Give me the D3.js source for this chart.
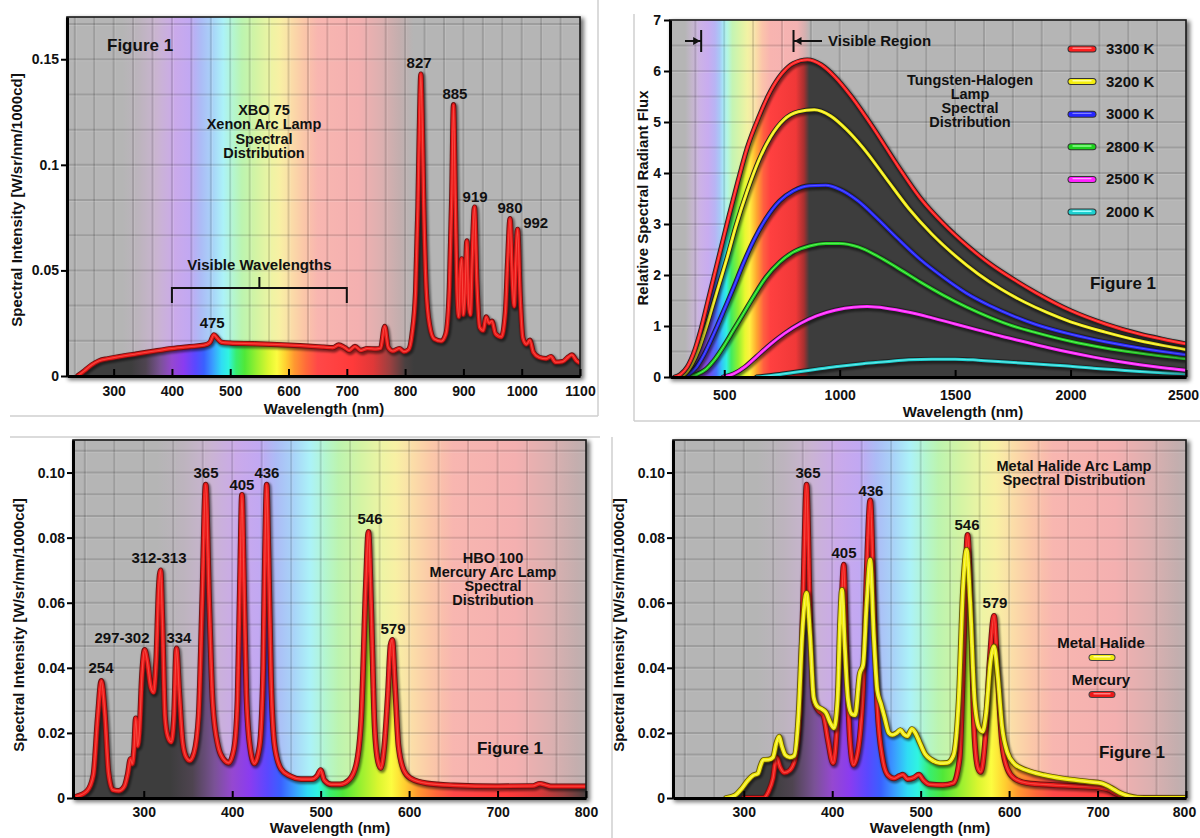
<!DOCTYPE html>
<html><head><meta charset="utf-8">
<script src="https://cdn.jsdelivr.net/npm/d3@7"></script>
<style>
body{margin:0;background:#fff;}
text{font-family:"Liberation Sans",Arial,Helvetica,sans-serif;font-weight:bold;fill:#111;}
</style></head><body>
<svg id="chart" width="1200" height="838"></svg>
<script>
// ---------------- DATA ----------------
// Panel A: XBO 75 Xenon arc lamp  [wavelength nm, spectral intensity]
const xenonSpectrum = [
[238,0],[250,0.0025],[262,0.0052],[275,0.0072],[290,0.0082],[310,0.0092],[340,0.0105],[370,0.0118],[400,0.0130],[430,0.0139],[455,0.0146],[465,0.0158],[472,0.0195],[478,0.0178],[485,0.0160],[500,0.0156],[540,0.0153],[580,0.0149],[620,0.0144],[660,0.0137],[676,0.0134],[686,0.0147],[696,0.0135],[704,0.0121],[714,0.0140],[724,0.0121],[735,0.0130],[750,0.0128],[758,0.0132],[765,0.0235],[771,0.0135],[779,0.0118],[790,0.0130],[798,0.0115],[806,0.0125],[812,0.0200],[818,0.0400],[822,0.0800],[825,0.1250],[827,0.1430],[829,0.1250],[832,0.0800],[836,0.0420],[842,0.0240],[850,0.0175],[862,0.0165],[870,0.0200],[876,0.0420],[880,0.0850],[883,0.1285],[886,0.0850],[889,0.0400],[892,0.0280],[895,0.0500],[897,0.0555],[900,0.0290],[903,0.0420],[906,0.0640],[909,0.0340],[912,0.0290],[915,0.0550],[919,0.0800],[923,0.0450],[928,0.0230],[934,0.0215],[939,0.0280],[944,0.0250],[949,0.0260],[955,0.0200],[965,0.0185],[972,0.0300],[976,0.0550],[980,0.0745],[984,0.0450],[987,0.0330],[990,0.0550],[993,0.0695],[997,0.0400],[1002,0.0180],[1008,0.0150],[1014,0.0170],[1020,0.0112],[1030,0.0088],[1042,0.0082],[1050,0.0092],[1058,0.0065],[1070,0.0068],[1080,0.0090],[1086,0.0100],[1094,0.0072],[1100,0.0062]
];
const xenonXTicks = [300,400,500,600,700,800,900,1000,1100];
const xenonYTicks = [0,0.05,0.1,0.15];
const xenonYTickLabels = ["0","0.05","0.1","0.15"];
const xenonPeakLabels = [["475",469,0.0227],["827",824,0.1458],["885",885.5,0.1312],["919",920,0.0824],["980",980,0.0772],["992",1024,0.0701]];

// Panel B: Tungsten-halogen lamp, relative spectral radiant flux
const tungstenTemps = ["3300 K","3200 K","3000 K","2800 K","2500 K","2000 K"];
const flux3300 = [[285,0],[310,0.05],[340,0.2],[370,0.5],[400,0.95],[430,1.5],[460,2.05],[490,2.6],[520,3.15],[560,3.85],[600,4.5],[650,5.1],[700,5.6],[750,5.95],[800,6.15],[860,6.22],[920,6.12],[980,5.88],[1050,5.5],[1150,4.85],[1250,4.15],[1350,3.5],[1450,3.0],[1550,2.58],[1650,2.22],[1750,1.92],[1850,1.65],[2000,1.3],[2150,1.04],[2300,0.84],[2400,0.74],[2500,0.65]];
const flux3200 = [[300,0],[330,0.06],[360,0.25],[390,0.55],[420,0.95],[450,1.4],[480,1.85],[510,2.3],[550,2.95],[600,3.65],[650,4.25],[700,4.7],[760,5.05],[820,5.2],[890,5.24],[960,5.12],[1030,4.85],[1100,4.5],[1200,3.9],[1300,3.3],[1400,2.8],[1500,2.38],[1600,2.02],[1700,1.72],[1800,1.47],[1900,1.26],[2000,1.08],[2150,0.88],[2300,0.71],[2400,0.62],[2500,0.54]];
const flux3000 = [[315,0],[345,0.05],[380,0.2],[410,0.42],[440,0.7],[470,1.0],[500,1.32],[540,1.75],[580,2.2],[630,2.7],[680,3.1],[740,3.45],[800,3.65],[870,3.75],[940,3.76],[1000,3.68],[1080,3.45],[1160,3.12],[1250,2.72],[1350,2.3],[1450,1.95],[1550,1.64],[1650,1.4],[1750,1.2],[1850,1.03],[2000,0.84],[2150,0.69],[2300,0.57],[2400,0.5],[2500,0.44]];
const flux2800 = [[340,0],[380,0.05],[420,0.15],[460,0.35],[500,0.62],[540,0.92],[580,1.22],[630,1.6],[680,1.95],[740,2.25],[800,2.45],[870,2.57],[940,2.62],[1000,2.62],[1080,2.55],[1160,2.38],[1250,2.14],[1350,1.86],[1450,1.6],[1550,1.37],[1650,1.17],[1750,1.0],[1850,0.87],[2000,0.7],[2150,0.57],[2300,0.47],[2400,0.41],[2500,0.36]];
const flux2500 = [[495,0],[540,0.06],[590,0.2],[640,0.4],[700,0.64],[760,0.85],[830,1.05],[900,1.2],[980,1.31],[1060,1.37],[1120,1.38],[1200,1.35],[1300,1.27],[1400,1.16],[1500,1.04],[1600,0.92],[1700,0.8],[1800,0.69],[1900,0.58],[2000,0.48],[2100,0.39],[2200,0.31],[2300,0.24],[2400,0.18],[2500,0.13]];
const flux2000 = [[640,0],[720,0.04],[800,0.09],[900,0.15],[1000,0.21],[1100,0.26],[1200,0.3],[1300,0.34],[1400,0.35],[1500,0.35],[1600,0.33],[1700,0.3],[1800,0.27],[1900,0.24],[2000,0.21],[2100,0.17],[2200,0.14],[2300,0.11],[2400,0.085],[2500,0.065]];
const tungstenXTicks = [500,1000,1500,2000,2500];
const tungstenYTicks = [0,1,2,3,4,5,6,7];

// Panel C: HBO 100 mercury arc lamp
const mercurySpectrum = [
[224,0.0005],[236,0.0022],[243,0.007],[248,0.025],[252,0.036],[256,0.026],[260,0.008],[265,0.0025],[272,0.0022],[278,0.0035],[282,0.0075],[285,0.0120],[287,0.0105],[289,0.0150],[291,0.0245],[293,0.0160],[295,0.0200],[298,0.0380],[301,0.0455],[304,0.0420],[308,0.0340],[311,0.0325],[314,0.0420],[317,0.0650],[319,0.0700],[321,0.0550],[324,0.0250],[327,0.0190],[331,0.0172],[334,0.0240],[337,0.0460],[340,0.0330],[344,0.0170],[348,0.0125],[352,0.0115],[357,0.0140],[362,0.0250],[366,0.0600],[370,0.0963],[374,0.0600],[378,0.0290],[384,0.0160],[390,0.0120],[396,0.0108],[402,0.0150],[406,0.0300],[409,0.0700],[411,0.0932],[413,0.0700],[416,0.0320],[420,0.0160],[425,0.0106],[431,0.0160],[435,0.0400],[437,0.0750],[439,0.0963],[441,0.0750],[444,0.0360],[448,0.0160],[455,0.0090],[465,0.0068],[478,0.0058],[490,0.0058],[496,0.0068],[500,0.0086],[504,0.0055],[512,0.0042],[522,0.0042],[532,0.0055],[540,0.0100],[546,0.0250],[551,0.0650],[554,0.0818],[557,0.0600],[561,0.0220],[565,0.0110],[568,0.0092],[572,0.0160],[576,0.0320],[579,0.0470],[581,0.0486],[584,0.0350],[588,0.0160],[594,0.0085],[602,0.0060],[620,0.0045],[650,0.0039],[700,0.0036],[740,0.0037],[748,0.0044],[754,0.0040],[760,0.0036],[780,0.0036],[800,0.0036]
];
const hgXTicks = [300,400,500,600,700,800];
const hgYTicks = [0,0.02,0.04,0.06,0.08,0.10];
const hgYTickLabels = ["0","0.02","0.04","0.06","0.08","0.10"];
const mercuryPeakLabels = [["254",251.7,0.0384],["297-302",275.4,0.0476],["312-313",317.2,0.0722],["334",339.8,0.0476],["365",370.4,0.0983],["405",411,0.0947],["436",439.3,0.0983],["546",555.8,0.0842],["579",581.8,0.0504]];

// Panel D: Metal halide vs mercury
const metalHalideSpectrum = [
[280,0],[290,0.0008],[298,0.0030],[305,0.0055],[311,0.0070],[316,0.0075],[319,0.0100],[322,0.0117],[328,0.0118],[333,0.0125],[337,0.0170],[340,0.0189],[343,0.0160],[347,0.0132],[352,0.0125],[357,0.0130],[362,0.0260],[366,0.0500],[371,0.0630],[375,0.0500],[379,0.0310],[383,0.0282],[389,0.0272],[393,0.0262],[398,0.0230],[402,0.0215],[406,0.0300],[409,0.0550],[411,0.0640],[414,0.0480],[418,0.0300],[422,0.0258],[426,0.0255],[431,0.0380],[435,0.0410],[439,0.0600],[443,0.0732],[447,0.0500],[451,0.0330],[455,0.0290],[459,0.0250],[464,0.0200],[468,0.0194],[473,0.0200],[477,0.0209],[481,0.0196],[485,0.0190],[490,0.0212],[494,0.0200],[499,0.0170],[505,0.0135],[512,0.0118],[522,0.0107],[530,0.0108],[537,0.0130],[543,0.0300],[548,0.0650],[552,0.0763],[556,0.0600],[561,0.0300],[566,0.0215],[570,0.0204],[574,0.0260],[579,0.0420],[583,0.0466],[587,0.0380],[592,0.0220],[598,0.0140],[606,0.0105],[620,0.0085],[640,0.0070],[660,0.0060],[690,0.0050],[705,0.0045],[715,0.0032],[725,0.0016],[735,0.0006],[745,0.0001],[760,0],[800,0]
];
const mhMercurySpectrum = [
[300,0],[322,0],[328,0.002],[333,0.006],[337,0.0125],[341,0.0095],[346,0.0078],[352,0.0085],[358,0.0120],[363,0.0250],[367,0.0600],[371,0.0963],[375,0.0550],[379,0.0300],[384,0.0270],[390,0.0255],[395,0.0180],[401,0.0107],[406,0.0250],[410,0.0550],[413,0.0717],[416,0.0450],[420,0.0180],[424,0.0102],[430,0.0160],[435,0.0350],[439,0.0700],[443,0.0915],[447,0.0600],[451,0.0280],[457,0.0120],[463,0.0070],[470,0.0060],[476,0.0068],[480,0.0072],[485,0.0058],[492,0.0062],[498,0.0072],[503,0.0055],[510,0.0042],[525,0.0040],[537,0.0046],[544,0.0120],[549,0.0500],[553,0.0809],[557,0.0550],[561,0.0180],[565,0.0090],[568,0.0080],[573,0.0180],[578,0.0420],[583,0.0560],[587,0.0380],[592,0.0170],[598,0.0090],[606,0.0060],[620,0.0046],[650,0.0040],[680,0.0036],[700,0.0033],[712,0.0026],[722,0.0012],[732,0.0002],[745,0],[800,0]
];
const mhPeakLabels = [["365",372.6,0.0983],["436",443.8,0.0928],["405",413.3,0.0738],["546",552.4,0.0824],["579",584,0.0584]];

// spectrum colour stops (styling)
const pastelStops = [[200,'#b5b5b5'],[315,'#b5b5b5'],[345,'#bdb4be'],[375,'#cab4d2'],[405,'#caaaea'],[430,'#c2a8f2'],[450,'#acbcf6'],[470,'#a8d4f8'],[488,'#acf2f8'],[505,'#b4f6d0'],[520,'#bcf4b0'],[545,'#d4f4a4'],[570,'#eef4a4'],[585,'#f8f0a4'],[605,'#fbdca8'],[625,'#fbc8a8'],[650,'#f8b6b0'],[720,'#f4b0b0'],[760,'#dcb0b0'],[790,'#c4aeae'],[815,'#b5b5b5'],[1200,'#b5b5b5']];
const vividStops = [[200,'#3d3d3d'],[330,'#3d3d3d'],[355,'#4e4450'],[380,'#7a5296'],[400,'#9548d0'],[420,'#8a3cf0'],[440,'#5a48ff'],[455,'#3a60ff'],[470,'#3a9cff'],[485,'#30dcf4'],[497,'#30f4e0'],[510,'#38ee70'],[525,'#50e838'],[545,'#98f030'],[565,'#daf630'],[580,'#fcfc40'],[595,'#ffd030'],[610,'#ff9830'],[630,'#ff6a3a'],[650,'#ff4848'],[710,'#ff3a3a'],[745,'#e03838'],[775,'#984040'],[800,'#4a4040'],[815,'#3d3d3d'],[1200,'#3d3d3d']];
const pastelStopsB = [[265,'#b5b5b5'],[330,'#b5b5b5'],[360,'#c4b6cc'],[395,'#ccb2e6'],[430,'#c8acf0'],[460,'#b8b4f4'],[480,'#a8c8f6'],[498,'#a8eef8'],[515,'#b4f6e0'],[535,'#c4f4b4'],[565,'#d8f4a8'],[600,'#f2f2a4'],[635,'#fae0a8'],[665,'#fbc4aa'],[700,'#f8b4b0'],[815,'#f4b2b2'],[850,'#d4b0b0'],[872,'#b5b5b5'],[2500,'#b5b5b5']];
const vividStopsB = [[265,'#3d3d3d'],[335,'#3d3d3d'],[370,'#6a4a8a'],[410,'#8e48d8'],[440,'#6a50f0'],[465,'#4a70ff'],[490,'#30c8f8'],[510,'#30f0e0'],[530,'#40ec60'],[560,'#90f030'],[590,'#e8f830'],[610,'#fff040'],[640,'#ffa830'],[670,'#ff6040'],[700,'#ff4040'],[810,'#f03838'],[845,'#a83030'],[868,'#3d3d3d'],[2500,'#3d3d3d']];

// ---------------- DRAWING ----------------
const svg = d3.select('#chart');
const defs = svg.append('defs');
defs.append('filter').attr('id','blur3').attr('x','-5%').attr('y','-5%').attr('width','115%').attr('height','115%')
  .append('feGaussianBlur').attr('stdDeviation',2.2);
defs.append('filter').attr('id','blur1').attr('x','-5%').attr('y','-5%').attr('width','110%').attr('height','110%')
  .append('feGaussianBlur').attr('stdDeviation',1.2);

// separators of the four source pictures
[[10,416,598,416],[598,0,598,416],[634,14,634,421],[634,421,1200,421],[10,437,600,437],[612,437,612,838]].forEach(l=>{
  svg.append('line').attr('x1',l[0]).attr('y1',l[1]).attr('x2',l[2]).attr('y2',l[3]).attr('stroke','#cfcfcf').attr('stroke-width',1.5);
});

function spectrumGradient(id, stops, xs){
  const a = stops[0][0], b = stops[stops.length-1][0];
  const lg = defs.append('linearGradient').attr('id',id).attr('gradientUnits','userSpaceOnUse')
    .attr('x1',xs(a)).attr('x2',xs(b)).attr('y1',0).attr('y2',0);
  stops.forEach(s=>lg.append('stop').attr('offset',(s[0]-a)/(b-a)).attr('stop-color',s[1]));
}

function basePanel(p){
  const x = d3.scaleLinear().domain(p.xDomain).range([p.left,p.right]);
  const y = d3.scaleLinear().domain(p.yDomain).range([p.bottom,p.top]);
  const w = p.right-p.left, h = p.bottom-p.top;
  const g = svg.append('g');
  g.append('rect').attr('x',p.left+1).attr('y',p.top+1).attr('width',w+3).attr('height',h+3).attr('fill','#000').attr('opacity',0.55).attr('filter','url(#blur3)');
  g.append('rect').attr('x',p.left).attr('y',p.top).attr('width',w).attr('height',h).attr('fill','#b5b5b5');
  spectrumGradient(p.id+'-pastel', p.pastel, x);
  spectrumGradient(p.id+'-vivid', p.vivid, x);
  g.append('rect').attr('x',p.left).attr('y',p.top).attr('width',w).attr('height',h).attr('fill',`url(#${p.id}-pastel)`);
  defs.append('clipPath').attr('id',p.id+'-clip').append('rect').attr('x',p.left).attr('y',p.top).attr('width',w).attr('height',h);
  const inner = g.append('g').attr('clip-path',`url(#${p.id}-clip)`);
  const gx=[], gy=[];
  for(let k=-200;k<=200;k++){
    const vx = p.gridX[0]+k*p.gridX[1];
    if(vx>p.xDomain[0]+1e-6 && vx<p.xDomain[1]-1e-6) gx.push(vx);
    const vy = p.gridY[0]+k*p.gridY[1];
    if(vy>p.yDomain[0]+1e-9 && vy<p.yDomain[1]-1e-9) gy.push(vy);
  }
  const grid = inner.append('g');
  grid.selectAll(null).data(gx).join('line').attr('x1',d=>x(d)).attr('x2',d=>x(d)).attr('y1',p.top).attr('y2',p.bottom)
    .attr('stroke','#000').attr('stroke-opacity',0.13).attr('stroke-width',2);
  grid.selectAll(null).data(gy).join('line').attr('y1',d=>y(d)).attr('y2',d=>y(d)).attr('x1',p.left).attr('x2',p.right)
    .attr('stroke','#000').attr('stroke-opacity',0.13).attr('stroke-width',2);
  grid.selectAll(null).data(gx).join('line').attr('x1',d=>x(d)+1.5).attr('x2',d=>x(d)+1.5).attr('y1',p.top).attr('y2',p.bottom)
    .attr('stroke','#fff').attr('stroke-opacity',0.12).attr('stroke-width',1);
  grid.selectAll(null).data(gy).join('line').attr('y1',d=>y(d)+1.5).attr('y2',d=>y(d)+1.5).attr('x1',p.left).attr('x2',p.right)
    .attr('stroke','#fff').attr('stroke-opacity',0.12).attr('stroke-width',1);
  return {p,g,inner,x,y};
}

function fillUnder(ctx, data){
  const area = d3.area().x(d=>ctx.x(d[0])).y0(ctx.p.bottom).y1(d=>ctx.y(d[1])).curve(d3.curveMonotoneX);
  ctx.inner.append('path').attr('d',area(data)).attr('fill',`url(#${ctx.p.id}-vivid)`);
}

function drawCurve(ctx, data, color, edge, hi, w){
  const line = d3.line().x(d=>ctx.x(d[0])).y(d=>ctx.y(d[1])).curve(d3.curveMonotoneX);
  const d = line(data);
  const c = ctx.inner.append('g').attr('fill','none').attr('stroke-linejoin','round').attr('stroke-linecap','round');
  c.append('path').attr('d',d).attr('stroke','#000').attr('stroke-opacity',0.5).attr('stroke-width',w+3).attr('transform','translate(1.2,1.5)').attr('filter','url(#blur1)');
  c.append('path').attr('d',d).attr('stroke',edge).attr('stroke-width',w+1.8);
  c.append('path').attr('d',d).attr('stroke',color).attr('stroke-width',w);
  c.append('path').attr('d',d).attr('stroke',hi).attr('stroke-opacity',0.55).attr('stroke-width',Math.max(1,w*0.3));
}

function frame(ctx){
  const {p,g,x,y} = ctx;
  g.append('rect').attr('x',p.left).attr('y',p.top).attr('width',p.right-p.left).attr('height',p.bottom-p.top)
    .attr('fill','none').attr('stroke','#1a1a1a').attr('stroke-width',1.6);
  const xa = d3.axisBottom(x).tickValues(p.xTicks).tickFormat(d3.format('d')).tickSize(-7).tickSizeOuter(0).tickPadding(p.xPad);
  const gxa = g.append('g').attr('transform',`translate(0,${p.bottom})`).call(xa);
  gxa.select('.domain').attr('stroke','#000').attr('stroke-width',3);
  gxa.selectAll('.tick line').attr('stroke','#000').attr('stroke-width',2);
  gxa.selectAll('.tick text').style('font-size','14px');
  if(p.lastTickShift) gxa.selectAll('.tick text').filter((d,i,n)=>i===n.length-1).attr('dx',p.lastTickShift);
  const ya = d3.axisLeft(y).tickValues(p.yTicks).tickFormat((d,i)=>p.yLabels[i]).tickSize(6).tickSizeOuter(0).tickPadding(p.yPad);
  const gya = g.append('g').attr('transform',`translate(${p.left},0)`).call(ya);
  gya.select('.domain').attr('stroke','#000').attr('stroke-width',3);
  gya.selectAll('.tick line').attr('stroke','#000').attr('stroke-width',2);
  gya.selectAll('.tick text').style('font-size','14px');
  g.append('text').attr('x',p.xTitle[0]).attr('y',p.xTitle[1]).attr('text-anchor','middle').style('font-size','15px').text('Wavelength (nm)');
  g.append('text').attr('transform',`translate(${p.yTitle[0]},${p.yTitle[1]}) rotate(-90)`).attr('text-anchor','middle').style('font-size','15px').text(p.yTitleText);
}

function txt(g, x, y, s, size, anchor){
  return g.append('text').attr('x',x).attr('y',y).attr('text-anchor',anchor||'middle').style('font-size',size+'px').text(s);
}
function lines(g, x, y, arr, size, lh){
  arr.forEach((s,i)=>txt(g,x,y+i*lh,s,size));
}
function peakLabels(ctx, arr){
  arr.forEach(l=>txt(ctx.g, ctx.x(l[1]), ctx.y(l[2]), l[0], 15));
}

// ---- Panel A : Xenon ----
const A = basePanel({id:'A',left:67,right:580,top:17,bottom:376,xDomain:[220,1100],yDomain:[0,0.17],
  gridX:[300,100/3],gridY:[0,0.05/3],pastel:pastelStops,vivid:vividStops,
  xTicks:xenonXTicks,yTicks:xenonYTicks,yLabels:xenonYTickLabels,xPad:10,yPad:2,
  xTitle:[324,414],yTitle:[22,200],yTitleText:'Spectral Intensity [W/sr/nm/1000cd]'});
fillUnder(A, xenonSpectrum);
drawCurve(A, xenonSpectrum, '#ec1a1a', '#6e1212', '#ff7060', 3.4);
frame(A);
peakLabels(A, xenonPeakLabels);
txt(A.g, 107, 51, 'Figure 1', 17, 'start');
lines(A.g, 264, 115, ['XBO 75','Xenon Arc Lamp','Spectral','Distribution'], 14.5, 14.3);
txt(A.g, A.x(550), 270, 'Visible Wavelengths', 15);
A.g.append('path').attr('d',`M${A.x(400)},303V288H${A.x(700)}V303M${A.x(550)},288V277`)
  .attr('fill','none').attr('stroke','#111').attr('stroke-width',2);

// ---- Panel B : Tungsten-halogen ----
const B = basePanel({id:'B',left:670,right:1186,top:20,bottom:377,xDomain:[265,2500],yDomain:[0,7],
  gridX:[500,125],gridY:[0,0.5],pastel:pastelStopsB,vivid:vividStopsB,
  xTicks:tungstenXTicks,yTicks:tungstenYTicks,yLabels:tungstenYTicks.map(String),xPad:13,yPad:3,lastTickShift:-3,
  xTitle:[963,417],yTitle:[648,198],yTitleText:'Relative Spectral Radiant Flux'});
fillUnder(B, flux3300);
const tungstenSeries = [flux3300,flux3200,flux3000,flux2800,flux2500,flux2000];
const tungstenColors = ['#ff1e1e','#f4ee10','#2626ff','#1ed21e','#ff20ff','#1ed0d0'];
const tungstenHi = ['#ff8080','#ffffa0','#8080ff','#90ff90','#ffa0ff','#a0ffff'];
for(let i=tungstenSeries.length-1;i>=0;i--) drawCurve(B, tungstenSeries[i], tungstenColors[i], '#222', tungstenHi[i], 3);
frame(B);
tungstenTemps.forEach((t,i)=>{
  const yy = 49 + i*32.6;
  const lg = B.g.append('g').attr('stroke-linecap','round').attr('fill','none');
  lg.append('line').attr('x1',1072).attr('x2',1093).attr('y1',yy+1.5).attr('y2',yy+1.5).attr('stroke','#000').attr('stroke-opacity',0.45).attr('stroke-width',8).attr('filter','url(#blur1)');
  lg.append('line').attr('x1',1071).attr('x2',1093).attr('y1',yy).attr('y2',yy).attr('stroke','#333').attr('stroke-width',7);
  lg.append('line').attr('x1',1071).attr('x2',1093).attr('y1',yy).attr('y2',yy).attr('stroke',tungstenColors[i]).attr('stroke-width',5);
  lg.append('line').attr('x1',1073).attr('x2',1091).attr('y1',yy-0.8).attr('y2',yy-0.8).attr('stroke',tungstenHi[i]).attr('stroke-width',1.4);
  txt(B.g, 1106, yy+5, t, 15, 'start');
});
lines(B.g, 970, 85, ['Tungsten-Halogen','Lamp','Spectral','Distribution'], 14.5, 13.9);
txt(B.g, 1123, 289, 'Figure 1', 17);
txt(B.g, 828, 46, 'Visible Region', 15, 'start');
{
  const xl = B.x(400), xr = B.x(800);
  B.g.append('path').attr('d',`M${xl},30V52M${xr},30V52M685,41H${xl-1}M822,41H${xr+1}`).attr('stroke','#111').attr('stroke-width',2).attr('fill','none');
  B.g.append('path').attr('d',`M${xl-1},41l-7,-4v8z`).attr('fill','#111');
  B.g.append('path').attr('d',`M${xr+1},41l7,-4v8z`).attr('fill','#111');
}

// ---- Panel C : Mercury ----
const C = basePanel({id:'C',left:73,right:586,top:440,bottom:798,xDomain:[220,800],yDomain:[0,0.11],
  gridX:[300,100/3],gridY:[0,0.02/3],pastel:pastelStops,vivid:vividStops,
  xTicks:hgXTicks,yTicks:hgYTicks,yLabels:hgYTickLabels,xPad:9,yPad:2,
  xTitle:[330,833],yTitle:[24,625],yTitleText:'Spectral Intensity [W/sr/nm/1000cd]'});
fillUnder(C, mercurySpectrum);
drawCurve(C, mercurySpectrum, '#ec1a1a', '#6e1212', '#ff7060', 3.8);
frame(C);
peakLabels(C, mercuryPeakLabels);
lines(C.g, 493, 563, ['HBO 100','Mercury Arc Lamp','Spectral','Distribution'], 14.5, 13.9);
txt(C.g, 510, 754, 'Figure 1', 17);

// ---- Panel D : Metal halide ----
const D = basePanel({id:'D',left:673,right:1186,top:440,bottom:798,xDomain:[220,800],yDomain:[0,0.11],
  gridX:[300,100/3],gridY:[0,0.02/3],pastel:pastelStops,vivid:vividStops,
  xTicks:hgXTicks,yTicks:hgYTicks,yLabels:hgYTickLabels,xPad:9,yPad:2,lastTickShift:-2,
  xTitle:[930,833],yTitle:[624,625],yTitleText:'Spectral Intensity [W/sr/nm/1000cd]'});
fillUnder(D, metalHalideSpectrum);
fillUnder(D, mhMercurySpectrum);
drawCurve(D, mhMercurySpectrum, '#ec1a1a', '#6e1212', '#ff7060', 3.8);
drawCurve(D, metalHalideSpectrum, '#f2ec10', '#6a5a00', '#ffffa0', 3.8);
frame(D);
peakLabels(D, mhPeakLabels);
lines(D.g, 1074, 471, ['Metal Halide Arc Lamp','Spectral Distribution'], 14.5, 14);
txt(D.g, 1132, 758, 'Figure 1', 17);
[['Metal Halide',648,'#f2ec10','#ffffa0'],['Mercury',685,'#ec1a1a','#ff8080']].forEach(l=>{
  txt(D.g, 1101, l[1], l[0], 15);
  const yy = l[1]+9.5;
  const lg = D.g.append('g').attr('stroke-linecap','round');
  lg.append('line').attr('x1',1093).attr('x2',1112).attr('y1',yy+1.5).attr('y2',yy+1.5).attr('stroke','#000').attr('stroke-opacity',0.45).attr('stroke-width',8).attr('filter','url(#blur1)');
  lg.append('line').attr('x1',1092).attr('x2',1112).attr('y1',yy).attr('y2',yy).attr('stroke','#444').attr('stroke-width',7);
  lg.append('line').attr('x1',1092).attr('x2',1112).attr('y1',yy).attr('y2',yy).attr('stroke',l[2]).attr('stroke-width',5);
  lg.append('line').attr('x1',1094).attr('x2',1110).attr('y1',yy-0.8).attr('y2',yy-0.8).attr('stroke',l[3]).attr('stroke-width',1.4);
});
</script>
</body></html>
